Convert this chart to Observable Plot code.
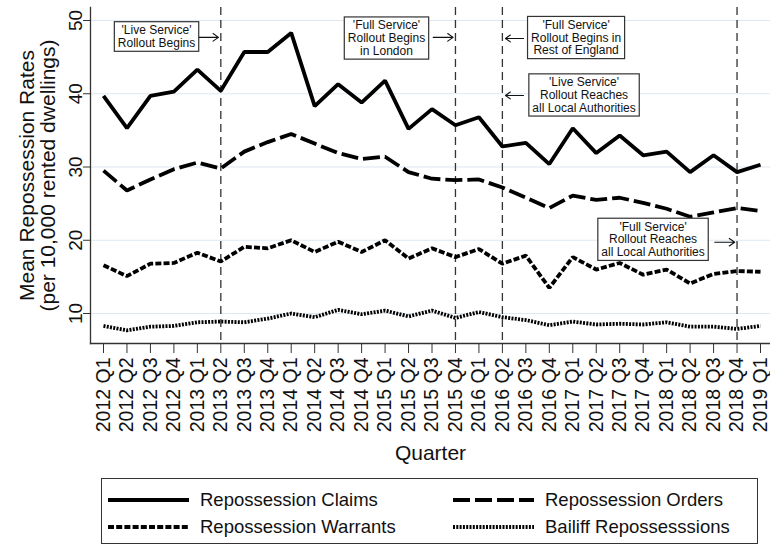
<!DOCTYPE html>
<html>
<head>
<meta charset="utf-8">
<script src="https://cdn.jsdelivr.net/npm/d3@7"></script>
<script src="https://cdn.jsdelivr.net/npm/@observablehq/plot@0.6"></script>
<style>
  html, body { margin: 0; padding: 0; background: #fff; }
  body { width: 770px; height: 545px; position: relative; overflow: hidden; font-family: "Liberation Sans", Arial, sans-serif; }
  #legend { position: absolute; left: 101px; top: 478px; width: 657px; height: 66px; box-sizing: border-box; border: 1.5px solid #333; background: #fff; }
  .item { position: absolute; display: flex; align-items: center; font-size: 18.5px; color: #111; white-space: nowrap; }
  .item svg { margin-right: 11px; }
</style>
</head>
<body>
<script>
const quarters = ["2012 Q1","2012 Q2","2012 Q3","2012 Q4","2013 Q1","2013 Q2","2013 Q3","2013 Q4",
  "2014 Q1","2014 Q2","2014 Q3","2014 Q4","2015 Q1","2015 Q2","2015 Q3","2015 Q4",
  "2016 Q1","2016 Q2","2016 Q3","2016 Q4","2017 Q1","2017 Q2","2017 Q3","2017 Q4",
  "2018 Q1","2018 Q2","2018 Q3","2018 Q4","2019 Q1"];

const claims   = [39.7,35.3,39.7,40.3,43.3,40.4,45.7,45.7,48.3,38.3,41.3,38.8,41.8,35.2,37.9,35.7,36.8,32.8,33.3,30.4,35.3,31.9,34.3,31.6,32.1,29.3,31.6,29.3,30.3];
const orders   = [29.5,26.8,28.3,29.7,30.6,29.8,32.1,33.4,34.5,33.2,31.9,31.1,31.4,29.3,28.4,28.2,28.3,27.2,25.8,24.4,26.1,25.5,25.8,25.1,24.3,23.2,23.8,24.4,24.0];
const warrants = [16.6,15.1,16.8,16.9,18.3,17.1,19.1,18.9,20.0,18.4,19.8,18.4,20.0,17.5,18.9,17.7,18.8,16.8,17.9,13.5,17.7,16.0,16.9,15.3,16.0,14.1,15.4,15.8,15.7];
const bailiff  = [8.3,7.7,8.2,8.3,8.8,8.9,8.8,9.3,10.0,9.5,10.5,9.9,10.4,9.6,10.4,9.4,10.2,9.5,9.1,8.4,8.9,8.5,8.6,8.5,8.8,8.2,8.2,7.9,8.3];

const seriesNames = ["Repossession Claims","Repossession Orders","Repossession Warrants","Bailiff Repossesssions"];
const yTicks = [10,20,30,40,50];
const eventQuarters = ["2013 Q2","2015 Q4","2016 Q2","2018 Q4"];

const annotationTexts = [
  "'Live Service'\nRollout Begins",
  "'Full Service'\nRollout Begins\nin London",
  "'Full Service'\nRollout Begins in\nRest of England",
  "'Live Service'\nRollout Reaches\nall Local Authorities",
  "'Full Service'\nRollout Reaches\nall Local Authorities"
];
const annotationEvents = ["2013 Q2","2015 Q4","2016 Q2","2016 Q2","2018 Q4"];
const annotationArrowY = [47.7,47.7,47.55,39.77,19.73];
const annotationLabelX = [2.26,12.06,20.14,20.48,23.42];
const annotationLabelY = [47.82,47.61,47.68,39.84,20.13];

// styles (kept separate from data)
const styles = [
  {dash: null, width: 3.8},
  {dash: "17,5", width: 3.8},
  {dash: "6,2.2", width: 3.8},
  {dash: "2,1.3", width: 3.8}
];
const allValues = [claims, orders, warrants, bailiff];

const data = allValues.flatMap((vals, s) => vals.map((v, i) => ({series: seriesNames[s], i, v})));
const annots = annotationTexts.map((t, k) => {
  const ev = quarters.indexOf(annotationEvents[k]);
  const dir = annotationLabelX[k] < ev ? -1 : 1;
  return {
    text: t, lx: annotationLabelX[k], ly: annotationLabelY[k], ay: annotationArrowY[k],
    x1: ev + dir * (dir < 0 ? 0.95 : 0.9), x2: ev + dir * (dir < 0 ? 0.1 : 0.13)
  };
});
const eventIdx = eventQuarters.map(q => quarters.indexOf(q));

const lineMarks = seriesNames.map((name, s) => Plot.line(data.filter(d => d.series === name), {
  x: "i", y: "v", stroke: "#000", strokeWidth: styles[s].width,
  strokeDasharray: styles[s].dash, strokeLinejoin: "miter", strokeLinecap: "butt"
}));

const svg = Plot.plot({
  width: 770, height: 468,
  marginLeft: 90, marginRight: 0, marginTop: 7, marginBottom: 125,
  style: {fontFamily: "'Liberation Sans', Arial, sans-serif", background: "white", color: "#111"},
  x: {type: "linear", domain: [0, quarters.length - 1], range: [103, 760]},
  y: {domain: [10, 50], range: [313, 20]},
  marks: [
    Plot.gridY(yTicks, {stroke: "#dfe8ef", strokeOpacity: 1, strokeWidth: 1.2}),
    Plot.ruleX(eventIdx, {stroke: "#333", strokeWidth: 1.3, strokeDasharray: "8,5"}),
    ...lineMarks,
    Plot.frame({anchor: "left", stroke: "#333", strokeWidth: 1.3}),
    Plot.frame({anchor: "bottom", stroke: "#333", strokeWidth: 1.3}),
    Plot.axisX({ticks: d3.range(quarters.length), tickFormat: i => quarters[i], tickRotate: -90,
      tickSize: 10, tickPadding: 4, fontSize: 19.5, label: null, stroke: "#333"}),
    Plot.axisY({ticks: yTicks, tickRotate: -90, tickSize: 7, tickPadding: 2, fontSize: 19, label: null, stroke: "#333"}),
    Plot.text(["Mean Repossession Rates\n(per 10,000 rented dwellings)"], {
      frameAnchor: "left", textAnchor: "middle", rotate: -90, dx: -53, fontSize: 21, lineHeight: 1.0, fill: "#111"}),
    Plot.text(["Quarter"], {frameAnchor: "bottom", dy: 116, fontSize: 21, fill: "#111"}),
    Plot.arrow(annots, {x1: "x1", y1: "ay", x2: "x2", y2: "ay", stroke: "#111", strokeWidth: 1.1, headLength: 9, headAngle: 70}),
    Plot.text(annots, {x: "lx", y: "ly", text: "text", fontSize: 12, lineHeight: 1.05, fill: "#111", ariaDescription: "annotation"})
  ]
});
document.body.append(svg);

// draw boxes around annotation texts
svg.querySelectorAll('g[aria-description="annotation"] text').forEach(t => {
  const bb = t.getBBox();
  const r = document.createElementNS("http://www.w3.org/2000/svg", "rect");
  const px = 3.5, py = 1.5;
  r.setAttribute("x", bb.x - px); r.setAttribute("y", bb.y - py);
  r.setAttribute("width", bb.width + 2 * px); r.setAttribute("height", bb.height + 2 * py);
  r.setAttribute("fill", "#fff"); r.setAttribute("stroke", "#333"); r.setAttribute("stroke-width", "1.2");
  const tr = t.getAttribute("transform");
  if (tr) r.setAttribute("transform", tr);
  t.parentNode.insertBefore(r, t);
});

// legend (HTML, below the SVG)
const legend = document.createElement("div");
legend.id = "legend";
const pos = [[6, 21], [351, 21], [6, 48], [351, 48]];
seriesNames.forEach((name, s) => {
  const it = document.createElement("div");
  it.className = "item";
  it.style.left = pos[s][0] + "px";
  it.style.top = (pos[s][1] - 12) + "px";
  it.style.height = "24px";
  const dash = styles[s].dash ? `stroke-dasharray="${styles[s].dash}"` : "";
  it.innerHTML = `<svg width="81" height="10"><line x1="0" y1="5" x2="81" y2="5" stroke="#000" stroke-width="${styles[s].width}" ${dash}/></svg><span>${name}</span>`;
  legend.append(it);
});
document.body.append(legend);
</script>
</body>
</html>
